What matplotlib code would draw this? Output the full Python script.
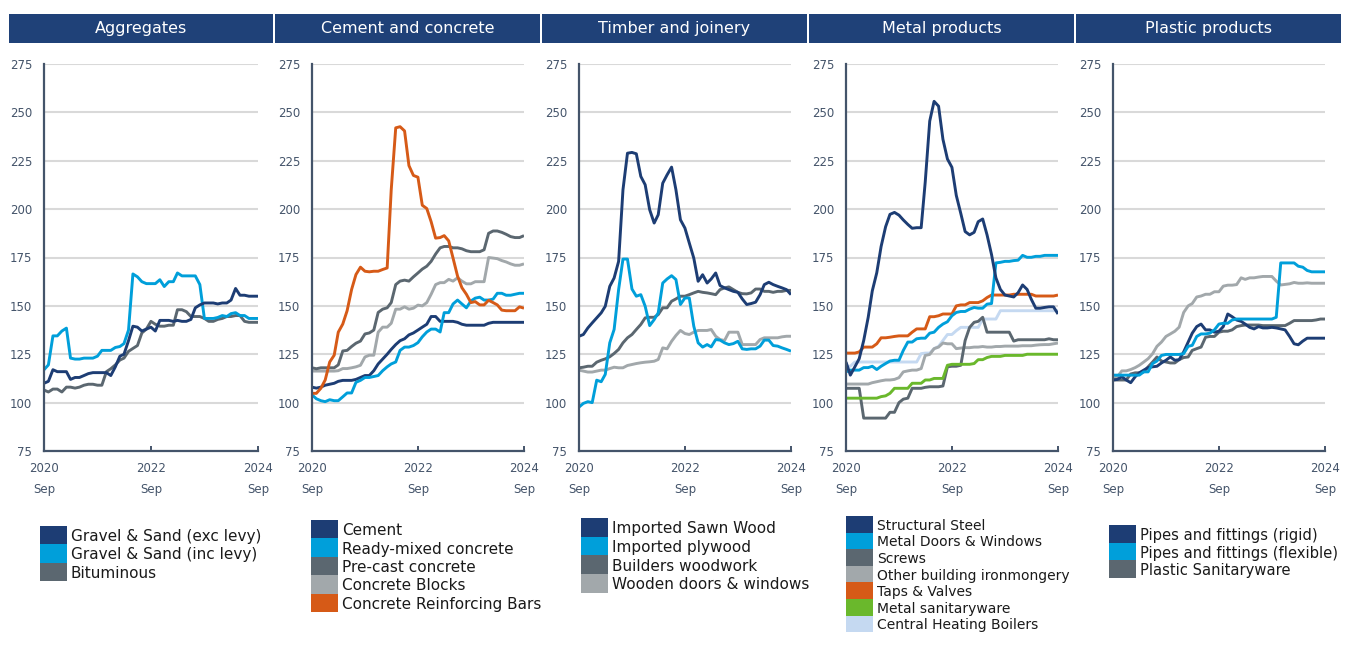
import matplotlib
matplotlib.use("Agg")
import matplotlib.pyplot as plt
from matplotlib.patches import Rectangle
import pandas as pd
import numpy as np

plt.rcParams['font.family'] = ['DejaVu Sans']

# ---------------- data ----------------
months = pd.date_range("2020-09-01", periods=49, freq="MS")
tick_dates = pd.to_datetime(["2020-09-01", "2022-09-01", "2024-09-01"])
tick_labels = ["2020\nSep", "2022\nSep", "2024\nSep"]
y_ticks = [75, 100, 125, 150, 175, 200, 225, 250, 275]

panel_titles = ["Aggregates", "Cement and concrete", "Timber and joinery",
                "Metal products", "Plastic products"]

# Aggregates
agg_labels = ["Gravel & Sand (exc levy)", "Gravel & Sand (inc levy)", "Bituminous"]
agg_exc = [110, 111, 117, 116, 116, 116, 112, 113, 113, 114,
           115, 115.5, 115.5, 115.5, 115.5, 114, 118.5, 124, 125, 132,
           139.5, 139, 137, 138, 139, 137, 142.5, 142.5, 142.5, 142,
           142.5, 142, 142, 143, 149, 150.5, 151.5, 151.5, 151.5, 151,
           151.5, 151.5, 153, 159, 155.5, 155.5, 155, 155, 155]
agg_inc = [117, 119.5, 134.5, 134.5, 137, 138.5, 123, 122.5, 122.5, 123,
           123, 123, 124, 127, 127, 127, 128.5, 129, 130.5, 137.5,
           166.5, 165, 162.5, 161.5, 161.5, 161.5, 163.5, 160, 162.5, 162.5,
           167, 165.5, 165.5, 165.5, 165.5, 161, 143.5, 143.5, 143.5, 144,
           145, 144.5, 146, 146.5, 145, 145, 143.5, 143.5, 143.5]
agg_bit = [106.5, 105.5, 107, 107, 105.5, 108, 108, 107.5, 108, 109,
           109.5, 109.5, 109, 109, 116, 117.5, 119.5, 122, 123, 126.5,
           128, 129.5, 136, 138, 142, 140.5, 139.5, 139.5, 140, 140,
           148, 148, 147, 144.5, 144.5, 144.5, 143.5, 142, 142, 143,
           143.5, 144.5, 144.5, 145, 145, 142, 141.5, 141.5, 141.5]

# Cement and concrete
cem_labels = ["Cement", "Ready-mixed concrete", "Pre-cast concrete",
              "Concrete Blocks", "Concrete Reinforcing Bars"]
cem_cement = [108, 107.5, 108, 109, 109.5, 110, 111, 111.5, 111.5, 111.5,
              112, 113, 114, 114, 116.5, 120, 122.5, 125, 127.5, 130,
              132, 133, 135, 136, 137.5, 139, 140.5, 144.5, 144.5, 142,
              142, 142, 142, 141.5, 140.5, 140, 140, 140, 140, 140,
              141, 141.5, 141.5, 141.5, 141.5, 141.5, 141.5, 141.5, 141.5]
cem_rmc = [104, 102, 101, 100.5, 101.5, 101, 101, 103, 105, 105,
           110.5, 111.5, 113, 113, 113.5, 114, 116.5, 118.5, 120, 121,
           127, 128.7, 128.7, 129.5, 131, 134, 136.5, 138, 138, 136.5,
           146.5, 146.5, 151, 153, 151, 149, 152.5, 154, 154.5, 153,
           153, 153.5, 156.5, 156.5, 155.5, 155.5, 156, 156.5, 156.5]
cem_precast = [118, 117.5, 118, 118, 118, 118, 119.5, 126.7, 127, 129,
               130.7, 131.8, 135.5, 136, 137.5, 146.6, 148.3, 149, 151.7, 161,
               162.8, 163.3, 162.8, 165, 167, 169, 170.5, 173, 176.8, 180,
               180.7, 180.7, 180, 180, 179.5, 178.5, 178, 178, 178, 179,
               187.5, 188.7, 188.7, 188, 187, 185.8, 185.3, 185.3, 186.3]
cem_blocks = [116.3, 116.3, 116.3, 116.3, 116.3, 116.3, 116.5, 117.6, 117.6, 118,
              118.5, 119.3, 123.6, 124.5, 124.5, 136.4, 139, 139, 141, 148.3,
              148.3, 149.5, 148.3, 148.8, 150.4, 150, 151.7, 156, 161, 162,
              162, 163.7, 162.8, 164.5, 162.8, 161.4, 161.4, 162.5, 162.5, 162.5,
              175, 174.7, 174.4, 173.4, 172.7, 171.7, 171, 171, 171.7]
cem_rebar = [104.8, 104.8, 107.4, 111.7, 121, 124.5, 136.4, 140.6, 147.5, 158.5,
             166.2, 170, 167.9, 167.6, 167.9, 167.9, 168.8, 169.6, 210, 242,
             242.6, 240.4, 222.5, 217.4, 216.5, 202, 200.3, 193.5, 185, 185.3,
             186.3, 183.6, 174.7, 165.4, 159.4, 156, 151.7, 152.2, 150.5, 150.5,
             152.9, 151.7, 150.5, 147.8, 147.5, 147.5, 147.5, 149.5, 148.8]

# Timber and joinery
tim_labels = ["Imported Sawn Wood", "Imported plywood", "Builders woodwork",
              "Wooden doors & windows"]
tim_sawn = [134.3, 135.2, 138.6, 141.2, 143.8, 146.4, 149.8, 160.1, 164.4, 173,
            210, 228.9, 229.3, 228.6, 216.9, 212.6, 199.7, 192.8, 197.1, 213.4,
            217.7, 221.7, 210, 194.5, 190.2, 182.5, 174.7, 162.7, 166.1, 161.8,
            163.9, 167, 160.5, 159.3, 158.4, 157.5, 157, 153.6, 150.7, 151.2,
            151.9, 155.8, 161, 162.2, 161, 160.1, 159.3, 158.4, 155.8]
tim_ply = [97.7, 99.6, 100.5, 100, 111.6, 110.8, 114.6, 130.9, 137.8, 158.4,
           174.2, 174.2, 158.7, 155, 155.8, 149.8, 139.8, 142.9, 146.4, 161.8,
           163.9, 165.6, 163.6, 150.7, 154.1, 154.1, 139.5, 130.9, 128.7, 130,
           128.8, 132.6, 132.3, 130.9, 130, 130.5, 131.7, 127.8, 127.5, 127.8,
           127.8, 129.2, 132.3, 132.3, 129.5, 129.2, 128.3, 127.5, 126.6]
tim_bw = [118, 118.3, 118.8, 118.8, 120.9, 121.9, 122.6, 123.7, 125.4, 127.5,
          130.9, 133.5, 135.2, 137.8, 140.4, 143.8, 144.1, 144.1, 145.5, 149,
          149, 152.4, 153.6, 155, 155, 155.8, 156.7, 157.5, 157, 156.7,
          156.3, 155.8, 158.4, 159.3, 159.8, 158.4, 157, 156.3, 156.2, 156.7,
          158.7, 158.7, 157.5, 157.5, 157, 157.5, 157.5, 158, 158]
tim_wd = [116.8, 116.3, 115.8, 115.8, 116.3, 116.8, 116.8, 117.6, 118.3, 118,
          118, 119.2, 119.7, 120.2, 120.6, 120.9, 121.1, 121.4, 122.3, 128.3,
          127.8, 131.7, 134.7, 137.3, 135.7, 135.2, 136.4, 137.3, 137.3, 137.3,
          137.8, 134.3, 132.6, 132.1, 136.4, 136.4, 136.4, 130, 130, 130,
          130, 132.6, 133.5, 133.5, 133.5, 133.5, 134, 134.3, 134.3]

# Metal products
met_labels = ["Structural Steel", "Metal Doors & Windows", "Screws",
              "Other building ironmongery", "Taps & Valves", "Metal sanitaryware",
              "Central Heating Boilers"]
met_steel = [121, 114.2, 118.5, 122.7, 132.1, 144.1, 157.7, 167.1, 180.7, 190.9,
             197.3, 198.3, 196.9, 194.4, 192.1, 190.1, 190.4, 190.4, 214, 245.5,
             255.7, 253.2, 236.1, 225.9, 221.6, 207.1, 197.8, 188.4, 186.7, 188,
             193.5, 194.9, 186.7, 176.5, 164.5, 158.5, 155.6, 155.1, 154.6, 156.8,
             160.8, 158.5, 153.4, 148.8, 148.8, 149.2, 149.5, 149.5, 145.8]
met_doors = [115.9, 116.8, 116.8, 116.8, 118.1, 118.1, 118.8, 117.1, 118.8, 120.2,
             121.5, 121.9, 121.9, 127, 131.3, 131.3, 133, 133.3, 133.3, 135.9,
             136.4, 138.9, 140.6, 141.8, 144.9, 146.6, 147.1, 147.1, 148.3, 149.2,
             148.8, 148.8, 150.9, 151.2, 172.2, 172.5, 173, 173, 173.4, 173.6,
             176.1, 175.1, 175.1, 175.6, 175.6, 176.1, 176.1, 176.1, 176.1]
met_screws = [107.4, 107.4, 107.4, 107.4, 92, 92, 92, 92, 92, 92,
              95, 95, 100, 101.8, 102.3, 107.4, 107.4, 107.4, 107.9, 108.2,
              108.2, 108.2, 108.6, 118.5, 118.8, 118.8, 119.3, 132.1, 138.9, 141.5,
              142, 144.1, 136.4, 136.4, 136.4, 136.4, 136.4, 136.4, 131.8, 132.5,
              132.5, 132.5, 132.5, 132.5, 132.5, 132.5, 133, 132.5, 132.5]
met_iron = [109.6, 109.6, 109.6, 109.6, 109.6, 109.6, 110.3, 110.8, 111.3, 111.7,
            111.7, 112, 112.9, 115.9, 116.4, 116.8, 116.8, 117.6, 124.4, 124.9,
            127.9, 128.7, 130.8, 130.4, 130.4, 127.9, 128.2, 128.4, 128.4, 128.7,
            128.7, 129, 128.7, 128.7, 129, 129, 129.2, 129.2, 129.2, 129.2,
            129.4, 129.4, 129.4, 129.7, 129.9, 130, 130, 130.4, 130.8]
met_taps = [125.6, 125.6, 125.6, 126.2, 128.7, 128.7, 128.7, 130.4, 133.5, 133.5,
            133.8, 134.2, 134.5, 134.5, 134.5, 136.4, 138.1, 138.1, 138.1, 144.4,
            144.4, 144.9, 145.8, 145.8, 145.8, 150, 150.5, 150.5, 151.7, 151.7,
            151.7, 152.6, 154.3, 155.6, 155.6, 155.6, 155.6, 155.6, 156, 156,
            156, 156, 156, 155.1, 155.1, 155.1, 155.1, 155.1, 155.6]
met_sanit = [102.3, 102.3, 102.3, 102.3, 102.3, 102.3, 102.3, 102.3, 103.1, 103.5,
             104.8, 107.4, 107.4, 107.4, 107.4, 110, 110, 110, 111.7, 111.7,
             112.5, 112.5, 112.5, 119.3, 119.8, 119.8, 119.8, 119.8, 119.8, 120.2,
             122.2, 122.2, 123.3, 123.9, 123.9, 123.9, 124.4, 124.4, 124.4, 124.4,
             124.4, 125, 125, 125, 125, 125, 125, 125, 125]
met_boiler = [118.8, 118.8, 121, 121, 121, 121, 121, 121, 121, 121,
              121, 121, 121, 121, 121, 121, 121, 125.3, 125.6, 125.6,
              127.9, 129.1, 132.1, 135.2, 135.2, 137.2, 138.9, 138.9, 138.9, 138.9,
              138.9, 143.2, 143.2, 143.2, 143.2, 147.5, 147.5, 147.5, 147.5, 147.5,
              147.5, 147.5, 147.5, 147.5, 147.5, 147.5, 147.5, 147.5, 147.5]

# Plastic products
pla_labels = ["Pipes and fittings (rigid)", "Pipes and fittings (flexible)",
              "Plastic Sanitaryware"]
pla_rigid = [111.7, 112, 113.4, 111.7, 110.3, 113.4, 115.4, 116.8, 118.1, 118.5,
             118.8, 120.5, 121.9, 123.6, 121.9, 122.2, 126.2, 131.3, 135.9, 139.3,
             140.6, 137.6, 137.6, 136.4, 136.9, 139.3, 145.8, 144.4, 142.7, 142,
             140.6, 138.9, 138.1, 139.3, 138.6, 138.6, 138.9, 138.6, 138.1, 137.6,
             134.2, 130.4, 129.9, 131.8, 133.3, 133.3, 133.3, 133.3, 133.3]
pla_flex = [114.2, 114.2, 114.2, 114.2, 114.2, 114.2, 114.2, 115.9, 115.9, 120.2,
            121.5, 124.4, 124.9, 124.9, 124.9, 124.9, 125.3, 129.1, 129.6, 134.2,
            135.5, 135.5, 135.9, 137.6, 140.6, 141, 141, 142.7, 143.2, 143.2,
            143.2, 143.2, 143.2, 143.2, 143.2, 143.2, 143.2, 144.1, 172.2, 172.2,
            172.2, 172.2, 170.5, 170, 168.3, 167.6, 167.6, 167.6, 167.6]
pla_sanit = [111.7, 111.7, 111.7, 111.7, 114.8, 115.4, 115.4, 115.9, 118.5, 121,
             123.6, 121.5, 121, 120.5, 120.5, 122.2, 123.3, 123.6, 127, 127.9,
             128.7, 133.8, 134.2, 134.2, 136.4, 136.9, 136.9, 137.6, 139.3, 139.8,
             140.1, 140.1, 140.1, 140.1, 139.8, 139.8, 139.8, 139.8, 139.8, 139.8,
             141, 142.4, 142.4, 142.4, 142.4, 142.4, 142.7, 143.2, 143.2]
pla_unlabelled = [112.5, 113.4, 116.4, 116.4, 117.1, 118.1, 119.3, 121, 122.7, 125.3,
                  129.1, 131.3, 134.2, 135.5, 136.9, 139, 146.6, 150, 151.2, 154.6,
                  155.1, 156, 156, 157.3, 157.3, 160.2, 160.7, 160.7, 161, 164.5,
                  163.7, 164.5, 164.5, 164.9, 165.2, 165.2, 165.2, 162.8, 160.8, 161.1,
                  161.4, 162.1, 161.7, 161.7, 161.9, 161.7, 161.7, 161.7, 161.7]

# ---------------- styling ----------------
NAVY = "#1D3D74"
LBLUE = "#009FDA"
DGRAY = "#5B6770"
LGRAY = "#A2A8AB"
ORANGE = "#D65A17"
GREEN = "#6AB82C"
PALE = "#C5D9F1"
HEADER = "#1F4178"
AXIS = "#44546A"
GRID = "#D9D9D9"

panels = [
    dict(series=[agg_exc, agg_inc, agg_bit], colors=[NAVY, LBLUE, DGRAY],
         labels=agg_labels, order=[2, 1, 0]),
    dict(series=[cem_cement, cem_rmc, cem_precast, cem_blocks, cem_rebar],
         colors=[NAVY, LBLUE, DGRAY, LGRAY, ORANGE], labels=cem_labels,
         order=[3, 2, 0, 1, 4]),
    dict(series=[tim_sawn, tim_ply, tim_bw, tim_wd],
         colors=[NAVY, LBLUE, DGRAY, LGRAY], labels=tim_labels,
         order=[3, 2, 1, 0]),
    dict(series=[met_steel, met_doors, met_screws, met_iron, met_taps, met_sanit, met_boiler],
         colors=[NAVY, LBLUE, DGRAY, LGRAY, ORANGE, GREEN, PALE], labels=met_labels,
         order=[6, 3, 2, 5, 4, 1, 0]),
    dict(series=[pla_rigid, pla_flex, pla_sanit, pla_unlabelled],
         colors=[NAVY, LBLUE, DGRAY, LGRAY], labels=pla_labels,
         order=[3, 2, 0, 1]),
]

W, H = 1365, 658
fig = plt.figure(figsize=(W / 100, H / 100), dpi=100)
fig.patch.set_facecolor("white")

def fx(px):
    return px / W

def fy(py):
    return 1 - py / H

header_x = [(9, 273), (275, 540), (542, 807), (809, 1074), (1076, 1341)]
axes_x = [(44, 258), (312, 524), (579, 791), (846, 1058), (1113, 1325)]
ax_top, ax_bot = 64, 451
# legend: box left, top, row height, fontsize
legend_cfg = [(40, 526, 18.3, 11), (311, 520, 18.4, 11), (581, 518, 18.7, 11),
              (846, 516, 16.6, 10), (1109, 525, 17.7, 10.6)]
box_w = 27

for p, panel in enumerate(panels):
    # header
    hx0, hx1 = header_x[p]
    hax = fig.add_axes([fx(hx0), fy(43), fx(hx1 - hx0), (43 - 14) / H])
    hax.set_facecolor(HEADER)
    hax.set_xticks([]); hax.set_yticks([])
    for s in hax.spines.values():
        s.set_visible(False)
    hax.text(0.5, 0.5, panel_titles[p], color="white", fontsize=11.5,
             ha="center", va="center", transform=hax.transAxes)

    # plot axes
    x0, x1 = axes_x[p]
    ax = fig.add_axes([fx(x0), fy(ax_bot), fx(x1 - x0), (ax_bot - ax_top) / H])
    for k in panel["order"]:
        ax.plot(months, panel["series"][k], color=panel["colors"][k], lw=2.1,
                solid_joinstyle="round", solid_capstyle="butt", clip_on=True, zorder=3)
    ax.set_ylim(75, 275)
    ax.set_xlim(months[0], months[-1])
    ax.set_yticks(y_ticks)
    ax.set_xticks(tick_dates)
    ax.set_xticklabels(tick_labels, linespacing=1.8)
    ax.grid(axis="y", color=GRID, lw=1.5, zorder=0)
    ax.grid(axis="x", visible=False)
    for side in ["top", "right"]:
        ax.spines[side].set_visible(False)
    for side in ["left", "bottom"]:
        ax.spines[side].set_color(AXIS)
        ax.spines[side].set_linewidth(1.6)
        ax.spines[side].set_zorder(4)
    ax.tick_params(axis="y", length=0, pad=8.5, labelsize=8.5, labelcolor=AXIS)
    ax.tick_params(axis="x", direction="in", length=3.5, width=1.4, color=AXIS,
                   pad=8, labelsize=8.5, labelcolor=AXIS)

    # legend (manual colour boxes)
    lx, ltop, rh, fs = legend_cfg[p]
    for i, lab in enumerate(panel["labels"]):
        top = ltop + i * rh
        fig.patches.append(Rectangle((fx(lx), fy(top + rh)), fx(box_w), rh / H,
                                     transform=fig.transFigure, facecolor=panel["colors"][i],
                                     edgecolor="none"))
        fig.text(fx(lx + box_w + 4), fy(top + rh / 2), lab, fontsize=fs,
                 color="#1A1A1A", ha="left", va="center_baseline")

fig.savefig("out.png", dpi=100, facecolor="white")
